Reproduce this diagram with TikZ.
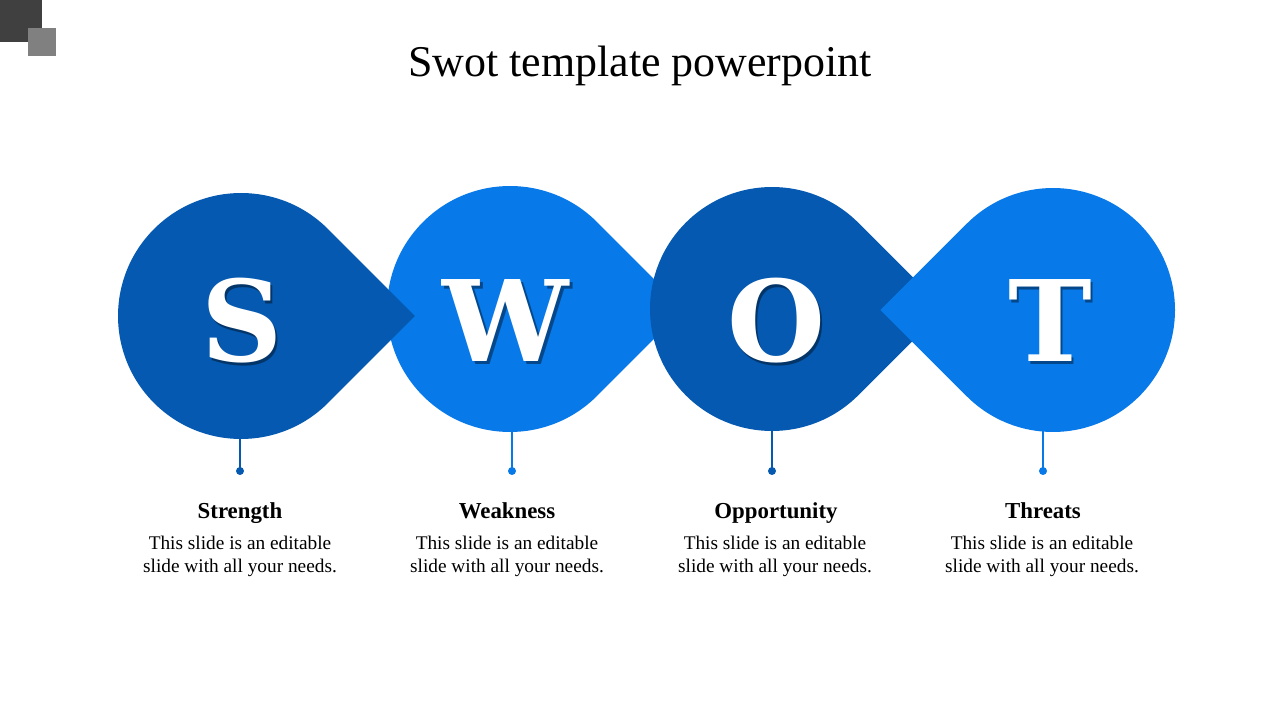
\documentclass[tikz,border=0pt]{standalone}
\usepackage{fontspec}
\setmainfont{Liberation Serif}
\newfontfamily\letterfont{DejaVu Serif}
\usetikzlibrary{positioning}
\definecolor{swotdark}{HTML}{0559B0}
\definecolor{swotlight}{HTML}{0879E9}
\definecolor{cornerdark}{HTML}{404040}
\definecolor{cornerlight}{HTML}{808080}

\begin{document}
\begin{tikzpicture}[x=0.02cm, y=0.02cm,
            letter/.style ={text=white, font=\letterfont\bfseries\fontsize{64}{64}\selectfont, inner sep=0pt, anchor=base},
            shade/.style ={text=black, opacity=0.4, font=\letterfont\bfseries\fontsize{64}{64}\selectfont, inner sep=0pt, anchor=base},
            heading/.style ={font=\bfseries\fontsize{13}{15}\selectfont, anchor=base},
            blurb/.style ={font=\fontsize{11}{13}\selectfont, align=center, anchor=base},
            stem/.style ={line width=1.3pt}]

        \useasboundingbox (0,0) rectangle (1280,720);

        % cuadrados de la esquina
        \fill[cornerdark] (0,720) rectangle (42,678);
        \fill[cornerlight] (28,692) rectangle (56,664);

        \node[anchor=base] (title) at (640,643) {\fontsize{25}{30}\selectfont Swot template powerpoint};

        % centros de las gotas
        \coordinate (S) at (241,404);
        \coordinate (W) at (510,411);
        \coordinate (O) at (772,411);
        \coordinate (T) at (1053,410);

        % gotas (orden: W, S, O, T)
        \fill[swotlight] (W) ++(45:123) arc[start angle=45, end angle=315, radius=123] -- ++(45:123) -- cycle;
        \fill[swotdark] (S) ++(45:123) arc[start angle=45, end angle=315, radius=123] -- ++(45:123) -- cycle;
        \fill[swotdark] (O) ++(45:122) arc[start angle=45, end angle=315, radius=122] -- ++(45:122) -- cycle;
        \fill[swotlight] (T) ++(225:122) arc[start angle=225, end angle=495, radius=122] -- ++(225:122) -- cycle;

        % letras
        \node[shade] at (244.5,355.5) {S};
        \node[letter] (Sl) at (242,358) {S};
        \node[shade] at (508.5,355.5) {W};
        \node[letter] (Wl) at (506,358) {W};
        \node[shade] at (778.5,355.5) {O};
        \node[letter] (Ol) at (776,358) {O};
        \node[shade] at (1052.5,355.5) {T};
        \node[letter] (Tl) at (1050,358) {T};

        % tallos
        \coordinate (Sbot) at (240,282);
        \coordinate (Sdot) at (240,249);
        \coordinate (Wbot) at (512,288);
        \coordinate (Wdot) at (512,249);
        \coordinate (Obot) at (772,289);
        \coordinate (Odot) at (772,249);
        \coordinate (Tbot) at (1043,289);
        \coordinate (Tdot) at (1043,249);

        \draw[stem, swotdark] (Sbot) -- (Sdot);
        \fill[swotdark] (Sdot) circle (4);
        \draw[stem, swotlight] (Wbot) -- (Wdot);
        \fill[swotlight] (Wdot) circle (4);
        \draw[stem, swotdark] (Obot) -- (Odot);
        \fill[swotdark] (Odot) circle (4);
        \draw[stem, swotlight] (Tbot) -- (Tdot);
        \fill[swotlight] (Tdot) circle (4);

        % textos
        \node[heading] (strength) at (240,201) {Strength};
        \node[blurb] (strengthtxt) at (240,148) {This slide is an editable\\slide with all your needs.};
        \node[heading] (weakness) at (507,201) {Weakness};
        \node[blurb] (weaknesstxt) at (507,148) {This slide is an editable\\slide with all your needs.};
        \node[heading] (opportunity) at (776,201) {Opportunity};
        \node[blurb] (opportunitytxt) at (775,148) {This slide is an editable\\slide with all your needs.};
        \node[heading] (threats) at (1043,201) {Threats};
        \node[blurb] (threatstxt) at (1042,148) {This slide is an editable\\slide with all your needs.};

    \end{tikzpicture}
\end{document}
